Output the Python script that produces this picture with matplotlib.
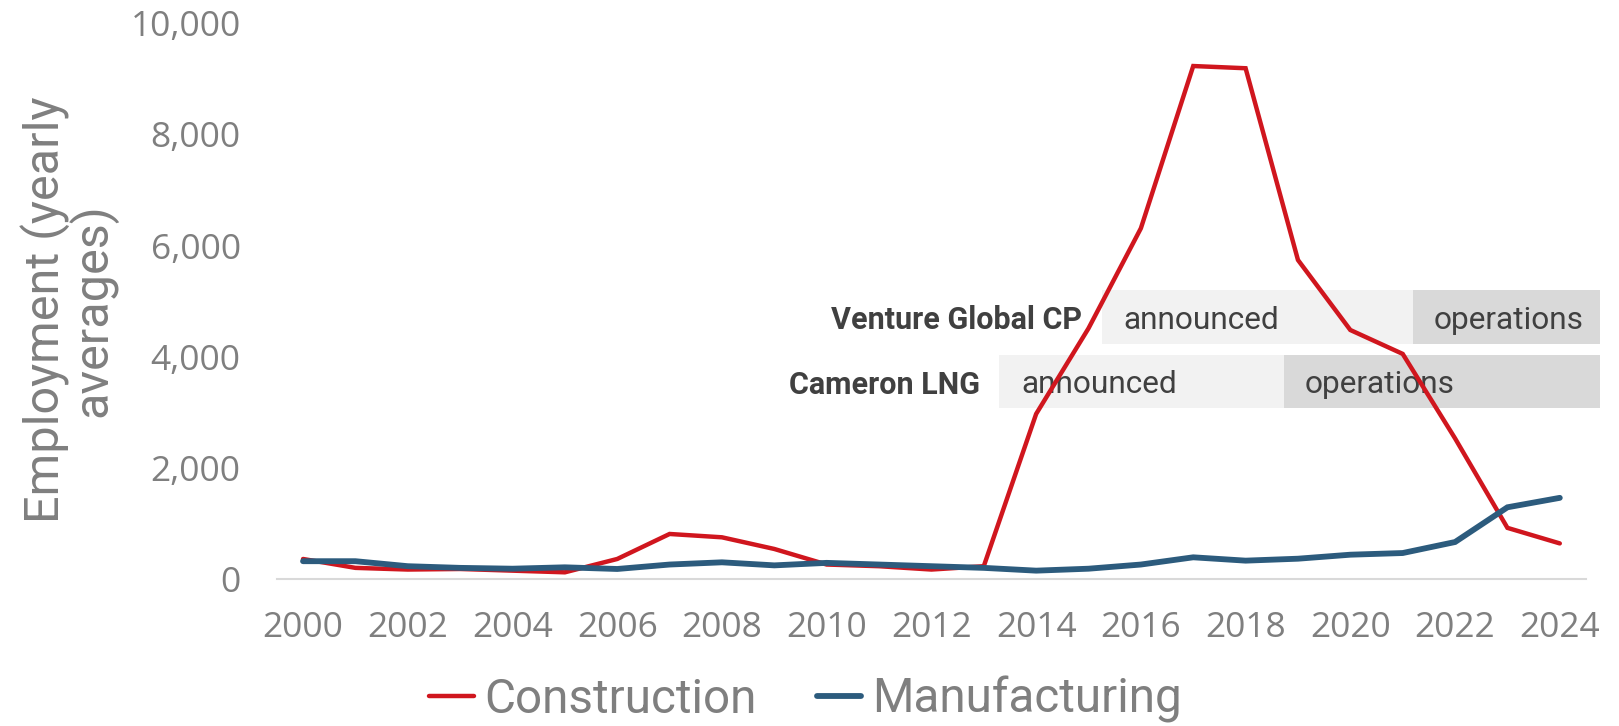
import matplotlib
matplotlib.use('Agg')
import matplotlib.pyplot as plt
from matplotlib.patches import Rectangle

# Yearly average employment
years = list(range(2000, 2025))
construction = [360, 200, 170, 180, 150, 120, 360, 810, 750, 540, 260, 230, 170,
                230, 2970, 4510, 6310, 9230, 9190, 5740, 4480, 4050, 2530, 920, 640]
manufacturing = [320, 320, 230, 200, 185, 210, 180, 260, 300, 245, 290, 260, 230,
                 200, 150, 185, 260, 390, 330, 365, 437, 467, 665, 1290, 1460]

# Project phases: (label, announced start, operations start, end)
projects = ['Venture Global CP', 'Cameron LNG']
announced_start = [2015.25, 2013.3]
operations_start = [2021.2, 2018.73]
phase_end = [2024.77, 2024.77]
row_top = [5200, 4030]
row_bottom = [4220, 3070]

NARROW = ['Roboto', 'DejaVu Sans']
GRAY = '#7f7f7f'
DARK = '#404040'

fig = plt.figure(figsize=(16.19, 7.26), dpi=100)
ax = fig.add_axes([0.171, 0.2025, 0.9796 - 0.171, 0.968 - 0.2025])

ax.plot(years, construction, color='#d0161e', lw=3.2, label='Construction',
        solid_capstyle='round', solid_joinstyle='miter', zorder=3)
ax.plot(years, manufacturing, color='#2c5b7d', lw=4.2, label='Manufacturing',
        solid_capstyle='round', solid_joinstyle='miter', zorder=3)

# phase boxes
for i, name in enumerate(projects):
    h = row_top[i] - row_bottom[i]
    ax.add_patch(Rectangle((announced_start[i], row_bottom[i]),
                           operations_start[i] - announced_start[i], h,
                           facecolor='#f2f2f2', edgecolor='none', zorder=1, clip_on=False))
    ax.add_patch(Rectangle((operations_start[i], row_bottom[i]),
                           phase_end[i] - operations_start[i], h,
                           facecolor='#d9d9d9', edgecolor='none', zorder=1, clip_on=False))
    ymid = (row_top[i] + row_bottom[i]) / 2
    ax.text(announced_start[i] - 0.38, ymid, name, ha='right', va='center_baseline',
            fontsize=22, fontweight='bold', color=DARK, family=NARROW, zorder=4)
    ax.text(announced_start[i] + 0.42, ymid, 'announced', ha='left', va='center_baseline',
            fontsize=22.8, color=DARK, family=NARROW, zorder=2)
    ax.text(operations_start[i] + 0.4, ymid, 'operations', ha='left', va='center_baseline',
            fontsize=22.8, color=DARK, family=NARROW, zorder=2)

ax.set_xlim(1999.5, 2024.5)
ax.set_ylim(0, 10000)
ax.set_xticks(years[::2])
ax.set_yticks(range(0, 10001, 2000))
ax.set_yticklabels(['{:,}'.format(v) for v in range(0, 10001, 2000)])
ax.tick_params(length=0, labelsize=25.5, labelcolor=GRAY)
ax.tick_params(axis='y', pad=26)
ax.tick_params(axis='x', pad=23)
for lab in ax.get_xticklabels() + ax.get_yticklabels():
    lab.set_family('Open Sans')

for s in ['top', 'right', 'left']:
    ax.spines[s].set_visible(False)
ax.spines['bottom'].set_color('#d9d9d9')
ax.spines['bottom'].set_linewidth(1.5)

fig.text(0.0425, 0.573, 'Employment (yearly\naverages)', rotation=90,
         ha='center', va='center', multialignment='center',
         fontsize=35, color=GRAY, family=NARROW, linespacing=0.92)

leg = fig.legend(loc='center', bbox_to_anchor=(0.4975, 0.036), ncol=2, frameon=False,
                 prop={'family': NARROW, 'size': 34.3}, handlelength=0.94,
                 handletextpad=0.22, columnspacing=1.25, borderpad=0.1)
for t in leg.get_texts():
    t.set_color(GRAY)

fig.savefig('out.png', dpi=100)
